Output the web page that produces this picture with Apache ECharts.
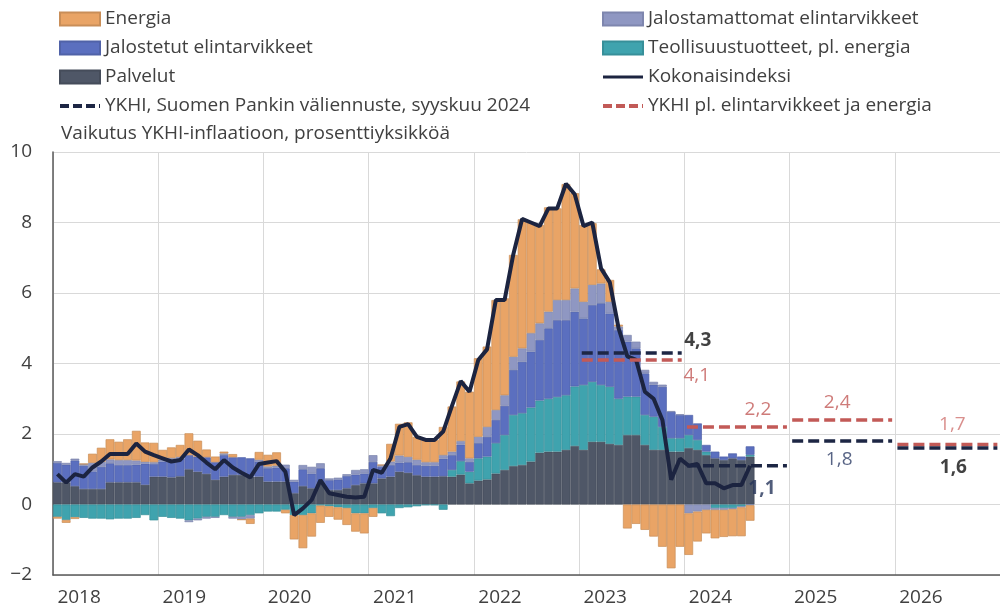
<!DOCTYPE html>
<html>
<head>
<meta charset="utf-8">
<title>YKHI-inflaatio osatekijöittäin</title>
<script src="https://cdn.jsdelivr.net/npm/echarts@6/dist/echarts.min.js"></script>
<style>
  html, body { margin: 0; padding: 0; background: #fff; }
  #chart { width: 1000px; height: 610px; }
</style>
</head>
<body>
<div id="chart"></div>
<script>
// vuodet ja kuukaudet (x-akseli)
var years = ['2018', '2019', '2020', '2021', '2022', '2023', '2024', '2025', '2026'];
var monthNums = ['01', '02', '03', '04', '05', '06', '07', '08', '09', '10', '11', '12'];

// vaikutukset, prosenttiyksikköä, 1/2018 - 8/2024
var palvelut = [
  0.63, 0.63, 0.52, 0.44, 0.44, 0.44, 0.63, 0.63, 0.63, 0.63, 0.56, 0.79,
  0.79, 0.77, 0.80, 1.00, 0.93, 0.87, 0.70, 0.79, 0.84, 0.84, 0.79, 0.79,
  0.65, 0.65, 0.65, 0.32, 0.52, 0.46, 0.58, 0.41, 0.41, 0.46, 0.55, 0.60,
  0.60, 0.74, 0.79, 0.93, 0.90, 0.83, 0.79, 0.79, 0.80, 0.79, 0.85, 0.60,
  0.68, 0.71, 0.88, 0.98, 1.09, 1.12, 1.22, 1.47, 1.50, 1.50, 1.55, 1.66,
  1.55, 1.78, 1.78, 1.72, 1.69, 1.97, 1.97, 1.69, 1.55, 1.55, 1.50, 1.50,
  1.60, 1.55, 1.40, 1.31, 1.26, 1.31, 1.26, 1.36
];
var teollisuus = [
  -0.35, -0.44, -0.36, -0.38, -0.40, -0.40, -0.42, -0.40, -0.40, -0.38, -0.30, -0.45,
  -0.35, -0.38, -0.40, -0.45, -0.40, -0.35, -0.35, -0.30, -0.35, -0.35, -0.30, -0.25,
  -0.20, -0.20, -0.15, -0.30, -0.30, -0.25, -0.03, -0.05, -0.08, -0.10, -0.25, -0.25,
  -0.10, -0.25, -0.33, -0.10, -0.08, -0.05, -0.02, -0.02, -0.15, 0.19, 0.38, 0.33,
  0.63, 0.65, 0.86, 0.99, 1.45, 1.47, 1.53, 1.48, 1.50, 1.55, 1.55, 1.69,
  1.84, 1.70, 1.61, 1.62, 1.31, 1.09, 1.09, 0.85, 0.94, 0.65, 0.38, 0.38,
  0.37, 0.28, 0.10, -0.10, -0.10, -0.10, -0.05, 0.05
];
var jalostetut = [
  0.55, 0.50, 0.73, 0.66, 0.50, 0.63, 0.54, 0.49, 0.49, 0.50, 0.60, 0.36,
  0.43, 0.50, 0.50, 0.40, 0.43, 0.47, 0.50, 0.61, 0.50, 0.50, 0.52, 0.43,
  0.38, 0.40, 0.38, 0.33, 0.48, 0.42, 0.45, 0.28, 0.30, 0.35, 0.30, 0.28,
  0.61, 0.33, 0.33, 0.26, 0.30, 0.29, 0.31, 0.31, 0.50, 0.42, 0.47, 0.28,
  0.43, 0.56, 0.66, 0.83, 1.28, 1.46, 1.59, 1.72, 2.00, 2.18, 2.13, 2.12,
  1.89, 2.18, 2.32, 2.08, 1.95, 1.56, 1.37, 1.18, 0.91, 1.14, 0.75, 0.66,
  0.57, 0.47, 0.19, 0.19, 0.10, 0.14, 0.10, 0.24
];
var jalostamattomat = [
  0.05, 0.05, 0.05, 0.05, 0.24, 0.14, 0.11, 0.14, 0.14, 0.12, 0.05, 0.05,
  0.05, 0.05, 0.05, -0.05, -0.05, -0.05, -0.03, 0.05, -0.05, -0.08, -0.10, 0.05,
  0.05, 0.05, 0.10, 0.05, 0.12, 0.19, 0.14, 0.05, 0.05, 0.05, 0.13, 0.12,
  0.19, 0.05, 0.10, 0.20, 0.15, 0.15, 0.10, 0.10, 0.10, 0.10, 0.10, 0.10,
  0.18, 0.28, 0.28, 0.30, 0.37, 0.38, 0.52, 0.47, 0.47, 0.57, 0.57, 0.66,
  0.47, 0.57, 0.56, 0.33, 0.10, 0.19, 0.19, 0.10, 0.08, 0.06, 0.02, 0.02,
  -0.25, -0.20, -0.15, -0.05, -0.05, -0.03, -0.03, -0.02
];
var energia = [
  -0.05, -0.08, -0.05, 0.00, 0.26, 0.40, 0.57, 0.52, 0.59, 0.84, 0.55, 0.55,
  0.28, 0.30, 0.34, 0.62, 0.45, 0.22, 0.16, 0.05, 0.09, 0.00, -0.15, 0.22,
  0.33, 0.38, -0.10, -0.69, -0.94, -0.66, -0.49, -0.30, -0.35, -0.48, -0.52, -0.57,
  -0.25, 0.00, 0.50, 0.90, 0.98, 0.65, 0.63, 0.63, 0.80, 1.28, 1.69, 1.89,
  2.23, 2.28, 3.12, 2.75, 2.89, 3.66, 3.14, 2.79, 2.96, 2.60, 3.29, 2.70,
  2.18, 1.75, 0.40, 0.62, 0.05, -0.68, -0.55, -0.72, -0.91, -1.20, -1.81, -1.20,
  -1.18, -0.85, -0.67, -0.81, -0.77, -0.77, -0.82, -0.44
];
var kokonaisindeksi = [
  0.86, 0.62, 0.86, 0.79, 1.05, 1.22, 1.43, 1.43, 1.43, 1.73, 1.50, 1.40,
  1.31, 1.22, 1.26, 1.56, 1.40, 1.19, 1.00, 1.26, 1.05, 0.90, 0.77, 1.15,
  1.19, 1.23, 0.93, -0.30, -0.11, 0.13, 0.69, 0.32, 0.27, 0.22, 0.20, 0.22,
  0.98, 0.90, 1.31, 2.20, 2.28, 1.92, 1.83, 1.83, 2.07, 2.80, 3.50, 3.20,
  4.10, 4.40, 5.80, 5.80, 7.10, 8.10, 8.00, 7.90, 8.40, 8.40, 9.10, 8.80,
  7.90, 8.00, 6.70, 6.30, 5.00, 4.20, 4.10, 3.20, 3.00, 2.40, 0.70, 1.30,
  1.10, 1.15, 0.60, 0.60, 0.46, 0.55, 0.55, 1.10
];

// ennusteet, vuosikeskiarvot
var forecastYears = [2023, 2024, 2025, 2026];
var ykhiForecast = [4.3, 1.1, 1.8, 1.6];
var coreForecast = [4.1, 2.2, 2.4, 1.7];

var FONT = '"Open Sans", sans-serif';
var TXT = '#404040';
var NAVY = '#1d2644';
var RED = '#c25a57';

var months = [];
years.forEach(function (y) {
    monthNums.forEach(function (m) { months.push(y + '-' + m); });
});

var myChart = echarts.init(document.getElementById('chart'));

function barSeries(name, data, color, border) {
    return {
        name: name,
        type: 'bar',
        stack: 'vaikutus',
        data: data,
        barCategoryGap: '0%',
        itemStyle: { color: color, borderColor: border, borderWidth: 0.7 },
        silent: true
    };
}

function fmt(v) {
    return v.toFixed(1).replace('.', ',');
}

// ennustejanat (piirretään piilotetulle arvoakselille, kuukausia 2018 alusta)
var forecastSeries = [];
var ykhiLabelStyle = [
    { offset: [66, -12], color: '#111', fontWeight: 'bold' },
    { offset: [25, 23], color: '#26345a', fontWeight: 'bold' },
    { offset: [-3, 19], color: '#2e3d66', fontWeight: 'normal' },
    { offset: [6, 19], color: '#111', fontWeight: 'bold' }
];
var coreLabelStyle = [
    { offset: [65, 16], color: RED, fontWeight: 'normal' },
    { offset: [21, -17], color: RED, fontWeight: 'normal' },
    { offset: [-5, -17], color: RED, fontWeight: 'normal' },
    { offset: [5, -20], color: '#cf7370', fontWeight: 'normal' }
];

forecastYears.forEach(function (yr, k) {
    var x0 = (yr - 2018) * 12;
    forecastSeries.push({
        name: 'YKHI pl. elintarvikkeet ja energia',
        type: 'line',
        xAxisIndex: 1,
        data: [[x0 + 0.3, coreForecast[k]], [x0 + 11.7, coreForecast[k]]],
        symbol: 'none',
        itemStyle: { color: RED },
        lineStyle: { color: RED, width: 3.5, type: [11, 5] },
        silent: true,
        z: 4
    });
    forecastSeries.push({
        name: 'YKHI, Suomen Pankin väliennuste, syyskuu 2024',
        type: 'line',
        xAxisIndex: 1,
        data: [[x0 + 0.3, ykhiForecast[k]], [x0 + 11.7, ykhiForecast[k]]],
        symbol: 'none',
        itemStyle: { color: NAVY },
        lineStyle: { color: NAVY, width: 3.5, type: [11, 5] },
        silent: true,
        z: 5
    });
});

// arvojen tekstit
forecastSeries.push({
    name: 'ykhi-arvot',
    type: 'scatter',
    xAxisIndex: 1,
    symbolSize: 0,
    silent: true,
    z: 6,
    label: { show: true, position: 'inside', fontSize: 19, fontFamily: FONT,
        formatter: function (p) { return fmt(p.value[1]); } },
    data: forecastYears.map(function (yr, k) {
        return { value: [(yr - 2018) * 12 + 6, ykhiForecast[k]], label: ykhiLabelStyle[k] };
    })
});
forecastSeries.push({
    name: 'core-arvot',
    type: 'scatter',
    xAxisIndex: 1,
    symbolSize: 0,
    silent: true,
    z: 6,
    label: { show: true, position: 'inside', fontSize: 19, fontFamily: FONT,
        formatter: function (p) { return fmt(p.value[1]); } },
    data: forecastYears.map(function (yr, k) {
        return { value: [(yr - 2018) * 12 + 6, coreForecast[k]], label: coreLabelStyle[k] };
    })
});

var legendText = { fontSize: 19, color: TXT, fontFamily: FONT, lineHeight: 20 };
var noSymbol = { opacity: 0 };

myChart.setOption({
    animation: false,
    title: {
        text: 'Vaikutus YKHI-inflaatioon, prosenttiyksikköä',
        left: 61,
        top: 124,
        padding: 0,
        textStyle: { fontSize: 19, fontWeight: 'normal', color: TXT, fontFamily: FONT }
    },
    legend: [{
        left: 58, top: 9, orient: 'vertical', padding: 0,
        itemWidth: 40, itemHeight: 13, itemGap: 9,
        selectedMode: false,
        textStyle: legendText,
        data: [
            { name: 'Energia', icon: 'rect' },
            { name: 'Jalostetut elintarvikkeet', icon: 'rect' },
            { name: 'Palvelut', icon: 'rect' },
            { name: 'YKHI, Suomen Pankin väliennuste, syyskuu 2024', itemStyle: noSymbol,
              lineStyle: { width: 4, type: [9, 4] } }
        ]
    }, {
        left: 601, top: 9, orient: 'vertical', padding: 0,
        itemWidth: 40, itemHeight: 13, itemGap: 9,
        selectedMode: false,
        textStyle: legendText,
        data: [
            { name: 'Jalostamattomat elintarvikkeet', icon: 'rect' },
            { name: 'Teollisuustuotteet, pl. energia', icon: 'rect' },
            { name: 'Kokonaisindeksi', itemStyle: noSymbol, lineStyle: { width: 3 } },
            { name: 'YKHI pl. elintarvikkeet ja energia', itemStyle: noSymbol,
              lineStyle: { width: 4, type: [9, 4] } }
        ]
    }],
    grid: { left: 53, top: 152, width: 958, height: 423, containLabel: false },
    xAxis: [{
        type: 'category',
        data: months,
        boundaryGap: true,
        axisLine: { onZero: false, lineStyle: { color: '#595959', width: 1.5 } },
        axisTick: { show: false },
        axisLabel: {
            interval: function (i) { return i % 12 === 0; },
            formatter: function (v) { return v.slice(0, 4); },
            align: 'left',
            margin: 13,
            fontSize: 19,
            color: TXT,
            fontFamily: FONT
        },
        splitLine: {
            show: true,
            interval: function (i) { return i % 12 === 0; },
            lineStyle: { color: '#d9d9d9', width: 1 }
        }
    }, {
        type: 'value',
        min: 0,
        max: 108,
        show: false
    }],
    yAxis: {
        type: 'value',
        min: -2,
        max: 10,
        interval: 2,
        axisLine: { show: true, lineStyle: { color: '#595959', width: 1.5 } },
        axisTick: { show: false },
        axisLabel: {
            margin: 21,
            fontSize: 19,
            color: TXT,
            fontFamily: FONT,
            formatter: function (v) { return String(v).replace('-', '\u2212'); }
        },
        splitLine: { lineStyle: { color: '#d9d9d9', width: 1 } }
    },
    series: [
        barSeries('Palvelut', palvelut, '#4f5767', '#454c5a'),
        barSeries('Teollisuustuotteet, pl. energia', teollisuus, '#3fa3ae', '#378f99'),
        barSeries('Jalostetut elintarvikkeet', jalostetut, '#5b6fbf', '#5062a8'),
        barSeries('Jalostamattomat elintarvikkeet', jalostamattomat, '#8f97c2', '#7e86ae'),
        barSeries('Energia', energia, '#e9a466', '#c98e58'),
        {
            name: 'Kokonaisindeksi',
            type: 'line',
            data: kokonaisindeksi,
            symbol: 'none',
            itemStyle: { color: '#1c2440' },
            lineStyle: { color: '#1c2440', width: 4 },
            silent: true,
            z: 3
        }
    ].concat(forecastSeries)
});
</script>
</body>
</html>
